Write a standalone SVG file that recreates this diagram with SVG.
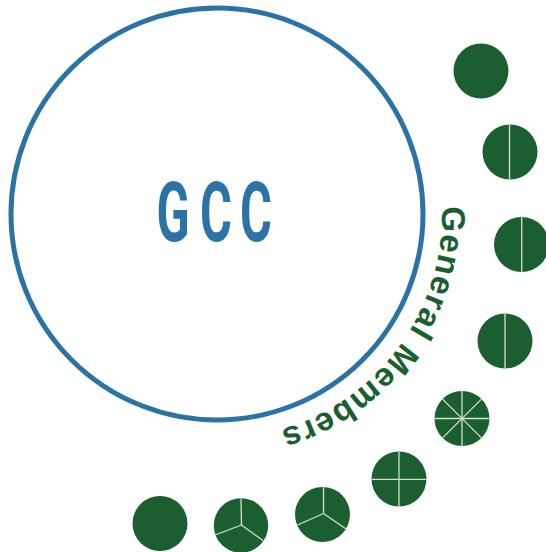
<svg xmlns="http://www.w3.org/2000/svg" width="546" height="552" viewBox="0 0 546 552">
<style>
  .gcc-ring{fill:#ffffff;stroke:#2b73a6;stroke-width:5}
  .gcc-label{font-family:Roboto,"Liberation Sans",sans-serif;font-weight:700;font-size:84px;fill:#2b73a6}
  .member{fill:#1b5e2f}
  .div{stroke:#d4e3c6;stroke-width:1.3;fill:none}
  .arc-label{font-family:"Liberation Sans",Arial,sans-serif;font-weight:bold;font-size:33px;fill:#1b5e2f;letter-spacing:1.4px}
</style>
<defs>
  <path id="labelArc" d="M 441.9 206.1 A 225 225 0 0 1 236.6 438.1"/>
</defs>
<rect width="546" height="552" fill="#ffffff"/>
<g id="gcc">
  <circle class="gcc-ring" cx="217" cy="214" r="206"/>
  <text class="gcc-label" transform="scale(0.58,1)" x="270 345 414" y="241">GCC</text>
</g>
<g id="general-members-label">
  <text class="arc-label"><textPath href="#labelArc">General Members</textPath></text>
</g>
<g id="member-1">
  <circle class="member" cx="481" cy="71" r="27.5"/>
</g>
<g id="member-2">
  <circle class="member" cx="510" cy="152" r="27.5"/>
  <line class="div" x1="509.5" y1="124.5" x2="509.5" y2="179.5"/>
</g>
<g id="member-3">
  <circle class="member" cx="521.5" cy="244.5" r="27.5"/>
  <line class="div" x1="521.7" y1="217" x2="521.7" y2="272"/>
</g>
<g id="member-4">
  <circle class="member" cx="505" cy="341" r="27.5"/>
  <line class="div" x1="505" y1="313.5" x2="505" y2="368.5"/>
</g>
<g id="member-5">
  <circle class="member" cx="462" cy="418.5" r="27.5"/>
  <line class="div" x1="434.5" y1="418.5" x2="489.5" y2="418.5"/>
  <line class="div" x1="462" y1="391" x2="462" y2="446"/>
  <line class="div" x1="442.6" y1="399.1" x2="481.4" y2="437.9"/>
  <line class="div" x1="481.4" y1="399.1" x2="442.6" y2="437.9"/>
</g>
<g id="member-6">
  <circle class="member" cx="399" cy="479" r="27.5"/>
  <line class="div" x1="371.5" y1="479.3" x2="426.5" y2="479.3"/>
  <line class="div" x1="399" y1="451.5" x2="399" y2="506.5"/>
</g>
<g id="member-7">
  <circle class="member" cx="322.5" cy="514.5" r="27.5"/>
  <line class="div" x1="323.5" y1="513.5" x2="323.5" y2="487"/>
  <line class="div" x1="323.5" y1="513.5" x2="297.5" y2="525"/>
  <line class="div" x1="323.5" y1="513.5" x2="346.5" y2="529.3"/>
</g>
<g id="member-8">
  <circle class="member" cx="241" cy="525.5" r="27.2"/>
  <line class="div" x1="241.5" y1="525" x2="241" y2="498.3"/>
  <line class="div" x1="241.5" y1="525" x2="215" y2="535"/>
  <line class="div" x1="241.5" y1="525" x2="263.3" y2="540.7"/>
</g>
<g id="member-9">
  <circle class="member" cx="160" cy="523.5" r="27.5"/>
</g>
<g id="connectors"></g>
</svg>
